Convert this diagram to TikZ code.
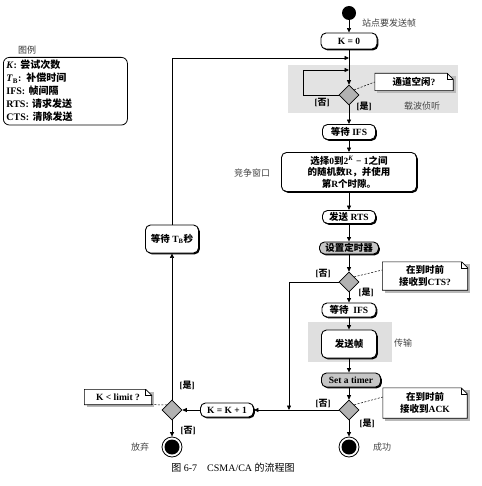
\documentclass[tikz,border=0pt]{standalone}
\usepackage{fontspec}
\setmainfont{Liberation Serif}
\newfontfamily\zhfont{Noto Sans CJK SC}
\usetikzlibrary{shapes.geometric,arrows.meta,shadows,backgrounds}
\newcommand\zh[1]{{\zhfont #1}}
\newcommand\notebg[1]{%
  \fill[gray!55] ([shift={(2.5pt,-2.5pt)}]#1.south west) rectangle ([shift={(2.5pt,-2.5pt)}]#1.north east);
  \draw[fill=white, line width=0.6pt] (#1.south west) -- (#1.north west) -- ([xshift=-6pt]#1.north east) -- ([yshift=-6pt]#1.north east) -- (#1.south east) -- cycle;
  \draw[line width=0.6pt] ([xshift=-6pt]#1.north east) -- ([xshift=-6pt,yshift=-6pt]#1.north east) -- ([yshift=-6pt]#1.north east);
}
\tikzset{
  box/.style={draw, line width=0.9pt, rounded corners=5pt, fill=white, align=center, inner sep=1pt,
    font=\bfseries\fontsize{9.5}{11.5}\selectfont,
    drop shadow={shadow xshift=1.3pt, shadow yshift=-1.3pt, fill=black, opacity=1}},
  graybox/.style={box, fill=gray!45},
  dec/.style={diamond, draw, fill=gray!60, minimum width=20pt, minimum height=20pt, inner sep=0pt, line width=0.6pt},
  flow/.style={-{Triangle[length=4.5pt,width=4pt]}, line width=0.7pt},
  notetext/.style={inner sep=2pt, align=center, font=\bfseries\fontsize{9.5}{11.5}\selectfont},
  lbl/.style={font=\bfseries\fontsize{9}{10}\selectfont, inner sep=0pt},
  gtext/.style={text=gray!55!black, font=\fontsize{9}{10}\selectfont, inner sep=0pt},
  endnode/.style={circle, draw, line width=0.8pt, minimum size=20pt, inner sep=0pt},
  dashln/.style={dashed, line width=0.5pt, dash pattern=on 2pt off 1.5pt}
}
\begin{document}
\begin{tikzpicture}[x=1pt,y=-1pt]
\useasboundingbox (0,0) rectangle (481,486);

% legend
\node[gtext, text=black!80] (lgt) at (27,50) {\zh{图例}};
\node[draw, rounded corners=6pt, line width=0.8pt, anchor=north west, minimum width=124pt, minimum height=66pt,
  text width=118pt, align=left, inner sep=3pt, font=\bfseries\fontsize{10}{13}\selectfont] (leg) at (3,57)
  {\textit{K}: \zh{尝试次数}\\
   \textit{T}\textsubscript{B}: \zh{补偿时间}\\
   IFS: \zh{帧间隔}\\
   RTS: \zh{请求发送}\\
   CTS: \zh{清除发送}};

% main column
\node[circle, fill=black, minimum size=14pt, inner sep=0pt] (st) at (349,13) {};
\node[gtext, text=black!75] (stl) at (389,23) {\zh{站点要发送帧}};
\node[box, minimum width=56pt, minimum height=16pt] (k0) at (349,41) {K = 0};
\coordinate (m1) at (349,58);
\coordinate (m2) at (349,70);
\node[dec] (d1) at (349,95) {};
\node[lbl] (no1) at (322,102) {[\zh{否}]};
\node[lbl] (ye1) at (364,106) {[\zh{是}]};
\node[gtext] (cs) at (422,106) {\zh{载波侦听}};
\node[notetext, minimum width=78pt, minimum height=17pt] (n1) at (414,82) {\zh{通道空闲}?};

\node[box, minimum width=53pt, minimum height=15pt] (ifs1) at (349,132) {\zh{等待} IFS};
\node[box, minimum width=135pt, minimum height=39pt] (rnd) at (349,172)
  {\zh{选择}0\zh{到}2\textsuperscript{\textit{K}} − 1\zh{之间}\\\zh{的随机数}R\zh{，并使用}\\\zh{第}R\zh{个时隙。}};
\node[gtext] (cw) at (252,173) {\zh{竞争窗口}};
\node[box, minimum width=53pt, minimum height=13pt] (rts) at (349,217) {\zh{发送} RTS};
\node[graybox, minimum width=59pt, minimum height=12pt] (t1) at (349,248) {\zh{设置定时器}};
\node[dec] (d2) at (349,282) {};
\node[lbl] (no2) at (323,273) {[\zh{否}]};
\node[lbl] (ye2) at (366,292) {[\zh{是}]};
\node[notetext, minimum width=85pt, minimum height=28pt] (n2) at (425,276) {\zh{在到时前}\\\zh{接收到}CTS?};
\node[box, minimum width=54pt, minimum height=14pt] (ifs2) at (349,310) {\zh{等待}\ \ IFS};
\node[box, minimum width=55pt, minimum height=28pt] (fr) at (349,344) {\zh{发送帧}};
\node[gtext] (tx) at (403,343) {\zh{传输}};
\node[graybox, minimum width=59pt, minimum height=14pt] (t2) at (351,380) {Set a timer};
\node[dec] (d3) at (349,410) {};
\node[lbl] (no3) at (323,403) {[\zh{否}]};
\node[lbl] (ye3) at (367,423) {[\zh{是}]};
\node[notetext, minimum width=84pt, minimum height=30pt] (n3) at (425,403) {\zh{在到时前}\\\zh{接收到}ACK};
\node[endnode] (ok) at (349,447) {};
\fill (ok) circle (7.5pt);
\node[gtext, font=\itshape\fontsize{9}{10}\selectfont] (okl) at (382,447) {\zh{成功}};

% left part
\node[box, minimum width=53pt, minimum height=14pt] (kk) at (227,410) {K = K + 1};
\node[dec] (d4) at (172,410) {};
\node[lbl] (ye4) at (187,385) {[\zh{是}]};
\node[lbl] (no4) at (188,430) {[\zh{否}]};
\node[notetext, minimum width=67pt, minimum height=15pt] (n4) at (118,397) {K < limit ?};
\node[endnode] (ab) at (172,447) {};
\fill (ab) circle (7.5pt);
\node[gtext, font=\itshape\fontsize{9}{10}\selectfont] (abl) at (140,447) {\zh{放弃}};
\node[box, minimum width=53pt, minimum height=28pt] (tb) at (172,239) {\zh{等待} T\textsubscript{B}\zh{秒}};

% backgrounds: gray regions, then notes
\begin{pgfonlayer}{background}
  \fill[gray!22] (288,65) rectangle (458,113);
  \fill[gray!25] (308,322) rectangle (392,362);
  \notebg{n1}
  \notebg{n2}
  \notebg{n3}
  \notebg{n4}
\end{pgfonlayer}

% caption
\node[font=\fontsize{10}{12}\selectfont] (cap) at (233,468) {\zh{图} 6-7\quad CSMA/CA \zh{的流程图}};

% connectors
\draw[flow] (st) -- (k0);
\draw[flow] (k0) -- (d1);
\coordinate (lp) at (303,70);
\draw[flow] (d1.west) -| (lp) -- (m2);
\coordinate (tl) at (172,58);
\draw[flow] (tb.north) -- (tl) -- (m1);
\draw[flow] (d1) -- (ifs1);
\draw[flow] (ifs1) -- (rnd);
\draw[flow] (rnd) -- (rts);
\draw[flow] (rts) -- (t1);
\draw[flow] (t1) -- (d2);
\draw[flow] (d2) -- (ifs2);
\draw[flow] (ifs2) -- (fr);
\draw[flow] (fr.south) -- (fr.south |- t2.north);
\draw[flow] (t2.south -| d3) -- (d3);
\draw[flow] (d3) -- (ok);
\coordinate (j) at (289,410);
\draw[flow] (d2.west) -| (j);
\draw[flow] (d3.west) -- (kk.east);
\draw[flow] (kk.west) -- (d4.east);
\draw[flow] (d4.north) -- (tb.south);
\draw[flow] (d4) -- (ab);
% dashed note links
\draw[dashln] (d1.north east) -- (n1.west);
\draw[dashln] (d2.north east) -- ([yshift=6pt]n2.west);
\draw[dashln] (d3.north east) -- ([yshift=6pt]n3.west);
\draw[dashln] (d4.north west) -- (n4.south east);
\end{tikzpicture}
\end{document}
